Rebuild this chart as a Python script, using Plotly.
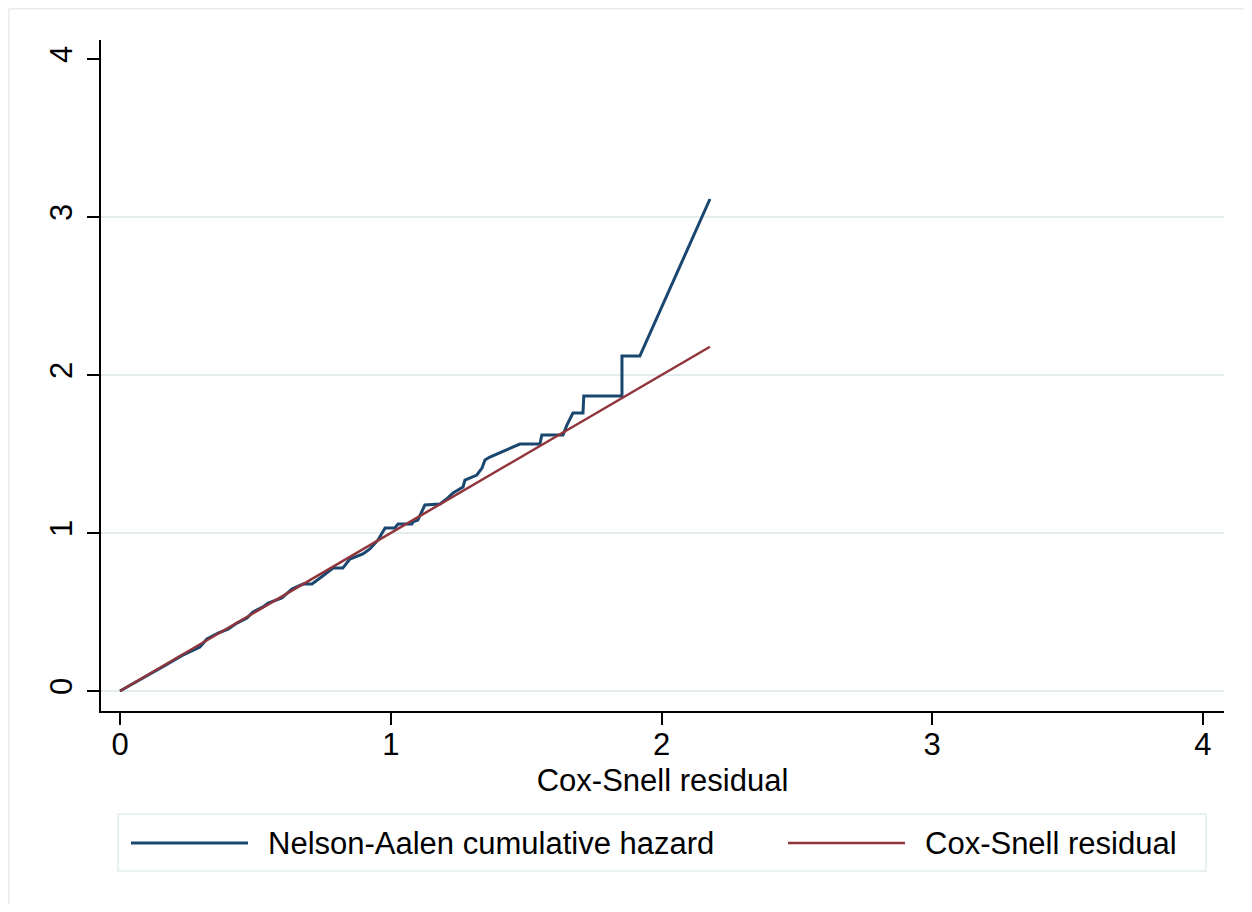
import plotly.graph_objects as go

# Nelson-Aalen cumulative hazard (step-like curve) vs Cox-Snell residual
na_x = [0.0, 0.08, 0.16, 0.23, 0.295, 0.321, 0.362, 0.399, 0.432, 0.469, 0.491, 0.528, 0.547,
        0.598, 0.635, 0.676, 0.709, 0.739, 0.787, 0.823, 0.849, 0.897, 0.923, 0.953, 0.979,
        1.015, 1.027, 1.078, 1.082, 1.100, 1.115, 1.126, 1.182, 1.211, 1.230, 1.267, 1.274,
        1.318, 1.337, 1.348, 1.366, 1.429, 1.477, 1.551, 1.558, 1.636, 1.651, 1.673, 1.710,
        1.713, 1.854, 1.854, 1.920, 2.179]
na_y = [0.0, 0.075, 0.155, 0.225, 0.278, 0.329, 0.367, 0.392, 0.430, 0.462, 0.500, 0.532, 0.557,
        0.589, 0.646, 0.677, 0.677, 0.715, 0.778, 0.778, 0.835, 0.867, 0.899, 0.956, 1.032,
        1.032, 1.057, 1.057, 1.070, 1.082, 1.133, 1.177, 1.184, 1.222, 1.253, 1.291, 1.335,
        1.367, 1.411, 1.462, 1.481, 1.525, 1.563, 1.563, 1.620, 1.620, 1.684, 1.759, 1.759,
        1.867, 1.867, 2.120, 2.120, 3.114]

# Reference line: Cox-Snell residual against itself
cs_x = [0.0, 2.179]
cs_y = [0.0, 2.179]

tick_vals = [0, 1, 2, 3, 4]
tick_text = ["0", "1", "2", "3", "4"]
grid_vals = [0, 1, 2, 3]

names = ["Nelson-Aalen cumulative hazard", "Cox-Snell residual"]
colors = ["#1a476f", "#90353b"]

FONT = "Liberation Sans, Arial, Helvetica, sans-serif"
FS = 31

fig = go.Figure()
fig.add_trace(go.Scatter(x=na_x, y=na_y, mode="lines", name=names[0],
                         line=dict(color=colors[0], width=3), showlegend=False))
fig.add_trace(go.Scatter(x=cs_x, y=cs_y, mode="lines", name=names[1],
                         line=dict(color=colors[1], width=2.5), showlegend=False))

# page body adds an 8px offset; figure coordinates are absolute - 8
OFF = 8
W, H = 1252 - 2 * OFF, 912 - 2 * OFF
ml, mt = 101 - OFF, 40 - OFF
mr = W - (1224 - OFF)
mb = H - (711 - OFF)
pw, ph = W - ml - mr, H - mt - mb

def px(xa):
    return (xa - OFF - ml) / pw

def py(ya):
    return (H - mb - (ya - OFF)) / ph

shapes = []
# horizontal gridlines
for g in grid_vals:
    shapes.append(dict(type="line", xref="paper", yref="y", x0=0, x1=1, y0=g, y1=g,
                       line=dict(color="#e3eded", width=2), layer="below"))
# outer graph-region frame (top and left edges only visible)
shapes.append(dict(type="line", xref="paper", yref="paper", x0=px(8.75), x1=px(1252),
                   y0=py(8.75), y1=py(8.75), line=dict(color="#e8ecec", width=1.5), layer="below"))
shapes.append(dict(type="line", xref="paper", yref="paper", x0=px(8.75), x1=px(8.75),
                   y0=py(8.75), y1=py(904), line=dict(color="#e8ecec", width=1.5), layer="below"))
# legend box
shapes.append(dict(type="rect", xref="paper", yref="paper", x0=px(118), x1=px(1206),
                   y0=py(871), y1=py(814), line=dict(color="#e3eded", width=1.5),
                   fillcolor="white"))
# legend samples
leg_y = py(843)
shapes.append(dict(type="line", xref="paper", yref="paper", x0=px(131), x1=px(248),
                   y0=leg_y, y1=leg_y, line=dict(color=colors[0], width=3)))
shapes.append(dict(type="line", xref="paper", yref="paper", x0=px(788), x1=px(905),
                   y0=leg_y, y1=leg_y, line=dict(color=colors[1], width=2.5)))

annotations = [
    dict(text=names[0], xref="paper", yref="paper", x=px(266), y=leg_y, xanchor="left",
         yanchor="middle", showarrow=False, font=dict(family=FONT, size=FS, color="black")),
    dict(text=names[1], xref="paper", yref="paper", x=px(923), y=leg_y, xanchor="left",
         yanchor="middle", showarrow=False, font=dict(family=FONT, size=FS, color="black")),
]

fig.update_layout(
    width=W, height=H,
    margin=dict(l=ml, r=mr, t=mt, b=mb, pad=0),
    paper_bgcolor="white", plot_bgcolor="white",
    font=dict(family=FONT, size=FS, color="black"),
    shapes=shapes, annotations=annotations,
    showlegend=False,
    xaxis=dict(range=[-0.0702, 4.0776], tickvals=tick_vals, ticktext=tick_text,
               showgrid=False, zeroline=False, showline=True, linecolor="black", linewidth=1.5,
               ticks="outside", ticklen=12, tickwidth=1.5, tickcolor="black",
               tickfont=dict(size=FS), ticklabelstandoff=-7,
               title=dict(text="Cox-Snell residual", font=dict(size=FS), standoff=8)),
    yaxis=dict(range=[-0.1266, 4.1203], tickvals=tick_vals, ticktext=tick_text,
               showgrid=False, zeroline=False, showline=True, linecolor="black", linewidth=1.5,
               ticks="outside", ticklen=12, tickwidth=1.5, tickcolor="black",
               tickfont=dict(size=FS), tickangle=-90, ticklabelstandoff=3),
)

fig.write_html("out.html")
